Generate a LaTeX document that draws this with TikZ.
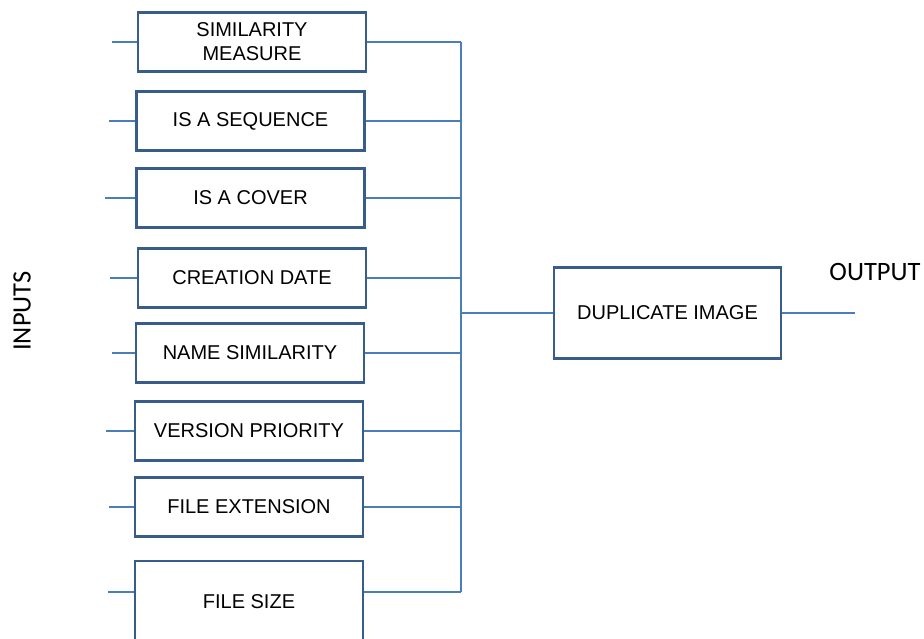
\documentclass[tikz,border=0pt]{standalone}
\usepackage{fontspec}
\setmainfont{Liberation Sans}
\newfontfamily\labelfont{Carlito}
\usetikzlibrary{positioning,calc}
\definecolor{boxline}{HTML}{385D8A}
\definecolor{wireblue}{HTML}{4A7EBB}

\begin{document}
\begin{tikzpicture}
[x=1pt,y=-1pt,every node/.style={inner sep=0pt},
 blk/.style={rectangle,draw=boxline,line width=2.4pt,fill=white,minimum width=228pt,minimum height=59pt,align=center,font=\fontsize{20}{24}\selectfont},
 wire/.style={draw=wireblue,line width=1.8pt}]
\clip (0,0) rectangle (924,639);

% input boxes
\node[blk] (Sim) at (252,42) {SIMILARITY\\MEASURE};
\node[blk] (Seq) at (250.5,121) {IS A SEQUENCE};
\node[blk] (Cov) at (250.5,198) {IS A COVER};
\node[blk] (Cre) at (252,278) {CREATION DATE};
\node[blk] (Nam) at (250,353) {NAME SIMILARITY};
\node[blk] (Ver) at (249,431) {VERSION PRIORITY};
\node[blk] (Ext) at (249,507) {FILE EXTENSION};
\node[blk,minimum height=82pt] (Fsz) at (249,602) {FILE SIZE};

% output box
\node[blk,minimum width=227pt,minimum height=91pt] (Dup) at (667.5,313) {DUPLICATE IMAGE};

\node[font=\labelfont\fontsize{26.5}{30}\selectfont] (Out) at (875,272) {OUTPUT};
\node[font=\labelfont\fontsize{26.5}{30}\selectfont,rotate=90] (In) at (22,311) {INPUTS};

% bus
\coordinate (Bt) at (461,42);
\coordinate (Bb) at (461,592);
\coordinate (Fl) at (108,592);
\coordinate (Oe) at (855,313);
\draw[wire] (Bt) -- (Bb);

% input and bus wires
\foreach \n/\l in {Sim/25,Seq/26,Cov/30,Cre/27,Nam/23,Ver/28,Ext/25}
{
  \draw[wire] (\n.west) -- ++(-\l,0);
  \draw[wire] (\n.east) -- (\n.east -| Bt);
}
\draw[wire] (Fl) -- (Fl -| Fsz.west);
\draw[wire] (Fsz.east |- Fl) -- (Bb);

\draw[wire] (Dup.west -| Bt) -- (Dup.west);
\draw[wire] (Dup.east) -- (Oe);
\end{tikzpicture}
\end{document}
